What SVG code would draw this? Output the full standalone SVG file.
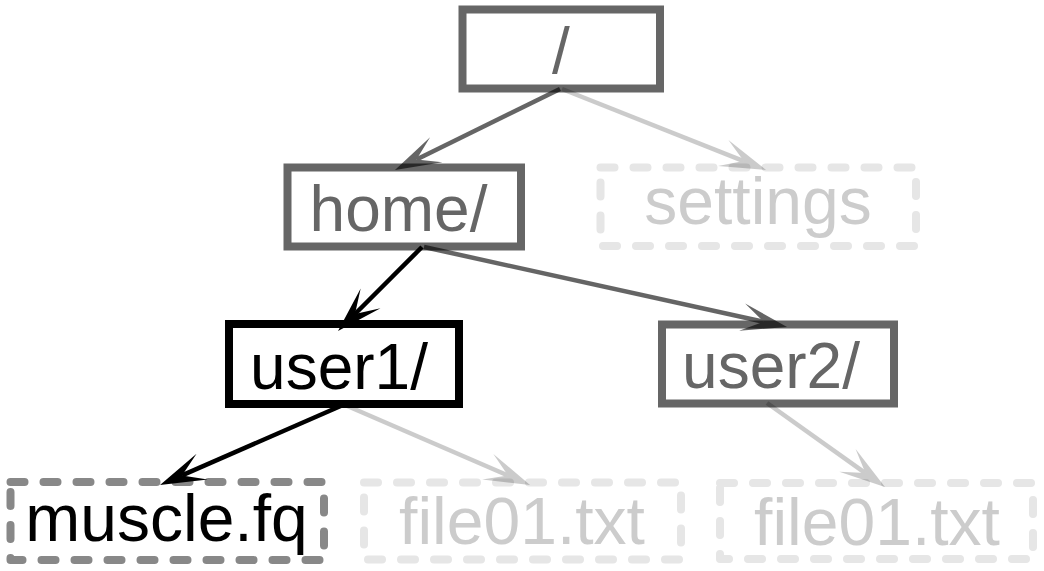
<svg xmlns="http://www.w3.org/2000/svg" width="1044" height="571" viewBox="0 0 1044 571">
<style>
.box{fill:#fff;stroke-width:8}
.solid-gray{stroke:#666}
.solid-black{stroke:#000}
.dash{fill:#fff;stroke-width:8;stroke-dasharray:14 19;stroke-linecap:round;stroke-linejoin:round}
.dash-mid{stroke:#888}
.dash-light{stroke:#e6e6e6}
text{font-family:"Liberation Sans",Arial,sans-serif;font-size:66px;text-anchor:middle}
.t-solid{font-size:64px}
.t-gray{fill:#666}
.t-black{fill:#000}
.t-light{fill:#ccc}
.edge{fill:none;stroke:#000;stroke-width:4.5;marker-end:url(#arrow)}
.e-gray{opacity:0.6}
.e-light{opacity:0.2}
</style>
<defs>
<marker id="arrow" markerUnits="userSpaceOnUse" orient="auto" refX="0" refY="0" markerWidth="60" markerHeight="40" overflow="visible">
<path d="M24,0 L-22,-14 L0,0 L-22,14 Z" fill="#000"/>
</marker>
</defs>
<rect width="1044" height="571" fill="#fff"/>
<g id="node-root">
<rect class="box solid-gray" x="462.5" y="9.5" width="197.5" height="79"/>
<text class="t-gray t-solid" x="561" y="72.5">/</text>
</g>
<g id="node-home">
<rect class="box solid-gray" x="287.5" y="167.5" width="233.5" height="79"/>
<text class="t-gray t-solid" x="398.5" y="231">home/</text>
</g>
<g id="node-settings">
<rect class="dash dash-light" x="600.5" y="167.5" width="315.5" height="78.5"/>
<text class="t-light" x="758" y="224">settings</text>
</g>
<g id="node-user1">
<rect class="box solid-black" x="229" y="324" width="230" height="80"/>
<text class="t-black t-solid" x="339" y="389">user1/</text>
</g>
<g id="node-user2">
<rect class="box solid-gray" x="662" y="324.5" width="232" height="79"/>
<text class="t-gray t-solid" x="771" y="388">user2/</text>
</g>
<g id="node-muscle">
<rect class="dash dash-mid" x="10.5" y="482" width="313.5" height="78"/>
<text class="t-black" x="166.5" y="540.5">muscle.fq</text>
</g>
<g id="node-file01-a">
<rect class="dash dash-light" x="364" y="482.5" width="317" height="77"/>
<text class="t-light" x="522" y="544">file01.txt</text>
</g>
<g id="node-file01-b">
<rect class="dash dash-light" x="720" y="483" width="313" height="76"/>
<text class="t-light" x="877" y="545">file01.txt</text>
</g>
<g id="connectors">
<path class="edge e-gray" d="M560,89 L416.5,159.4"/>
<path class="edge e-light" d="M562,89 L743.7,161.1"/>
<path class="edge" d="M422,247 L355,314"/>
<path class="edge e-gray" d="M424,247 L763.6,321.8"/>
<path class="edge" d="M343,405 L182,475.4"/>
<path class="edge e-light" d="M345,405 L508,475.5"/>
<path class="edge e-light" d="M767,403 L865.4,473.1"/>
</g>
</svg>
